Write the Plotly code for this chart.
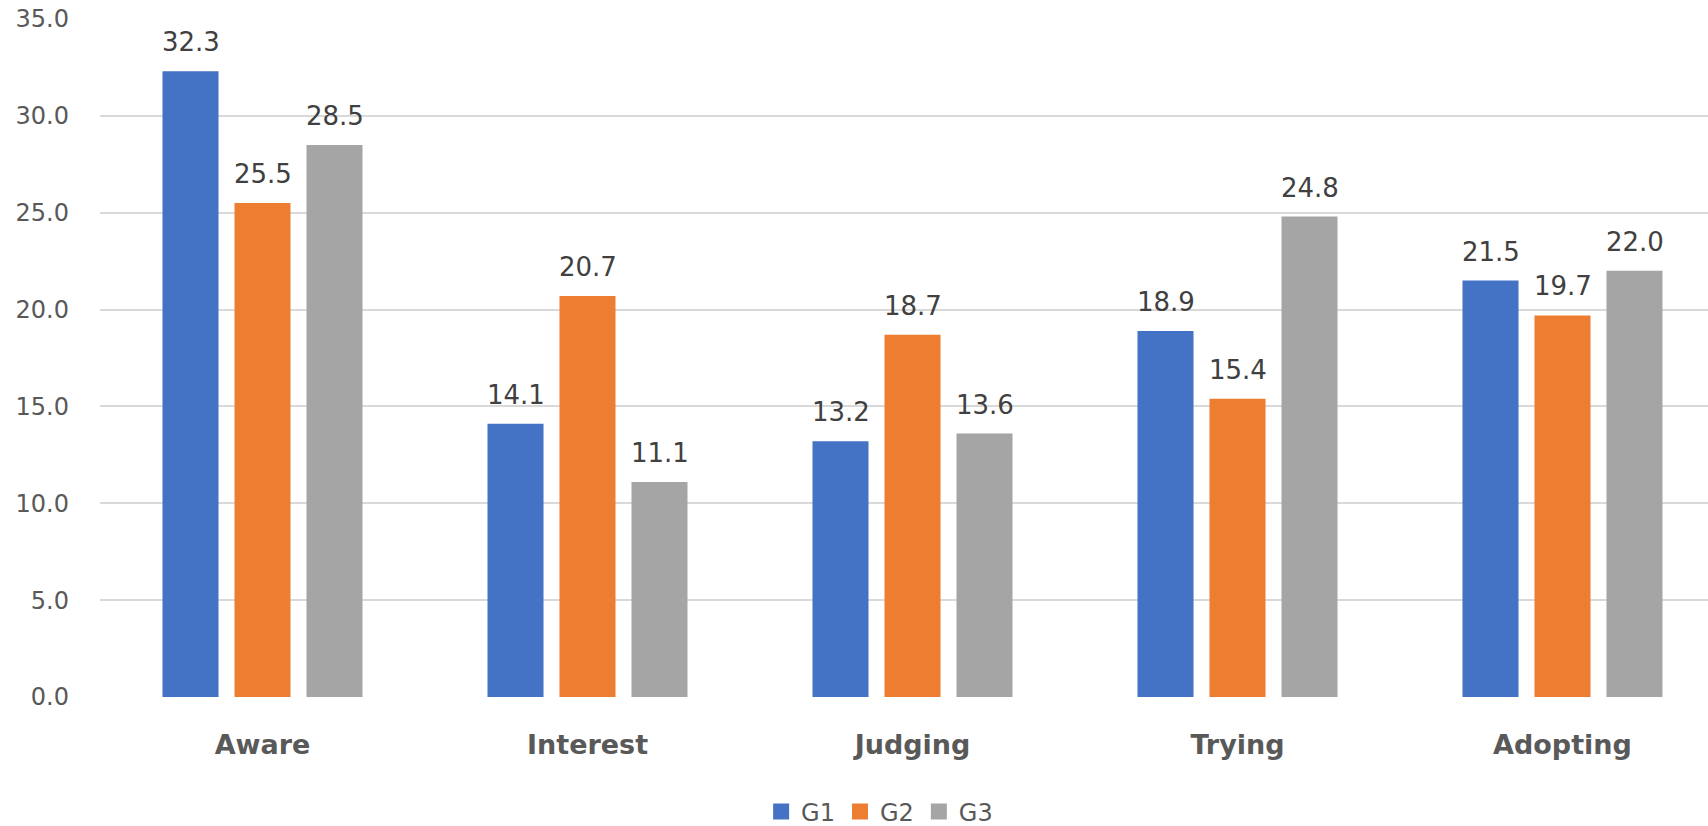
import plotly.graph_objects as go

# Adoption stage scores per group
categories = ["Aware", "Interest", "Judging", "Trying", "Adopting"]
series_names = ["G1", "G2", "G3"]
g1 = [32.3, 14.1, 13.2, 18.9, 21.5]
g2 = [25.5, 20.7, 18.7, 15.4, 19.7]
g3 = [28.5, 11.1, 13.6, 24.8, 22.0]
y_ticks = [0, 5, 10, 15, 20, 25, 30, 35]

colors = ["#4472C4", "#ED7D31", "#A5A5A5"]
FONT = "DejaVu Sans, sans-serif"

fig = go.Figure()
all_series = [g1, g2, g3]
for name, vals, col in zip(series_names, all_series, colors):
    fig.add_trace(go.Bar(
        x=categories, y=vals, name=name,
        marker=dict(color=col, line=dict(width=0)),
        showlegend=False, hoverinfo="x+y",
    ))
    # legend entry with a larger square swatch
    fig.add_trace(go.Scatter(
        x=[None], y=[None], mode="markers", name=name,
        marker=dict(symbol="square", size=18, color=col),
        showlegend=True,
    ))

# value labels above each bar
slot_px = 72
for k, vals in enumerate(all_series):
    for cat, v in zip(categories, vals):
        fig.add_annotation(
            x=cat, y=v, text=f"{v:.1f}", showarrow=False,
            xshift=(k - 1) * slot_px, yshift=12, yanchor="bottom",
            font=dict(family=FONT, size=26, color="#404040"),
        )

fig.update_layout(
    width=1708, height=826,
    margin=dict(l=100, r=0, t=19, b=129, autoexpand=False),
    paper_bgcolor="white", plot_bgcolor="white",
    barmode="group", bargap=0.3354, bargroupgap=0.222,
    font=dict(family=FONT, color="#595959"),
    legend=dict(
        orientation="h", xref="container", yref="container",
        x=0.515, xanchor="center", y=0.017, yanchor="middle",
        font=dict(family=FONT, size=24, color="#595959"),
        itemsizing="trace", tracegroupgap=0,
    ),
)
fig.update_xaxes(
    type="category", range=[-0.5, 4.4477], automargin=False,
    showgrid=False, zeroline=False, showline=False, ticks="",
    tickfont=dict(family=FONT, size=27, color="#595959", weight="bold"),
    ticklabelstandoff=29,
)
fig.update_yaxes(
    range=[0, 35], tickvals=y_ticks, automargin=False,
    ticktext=[f"{t:.1f}" for t in y_ticks],
    showgrid=True, gridcolor="#D9D9D9", gridwidth=2,
    zeroline=False, showline=False, ticks="",
    tickfont=dict(family=FONT, size=24, color="#595959"),
    ticklabelstandoff=30,
)

fig.write_html("out.html")
